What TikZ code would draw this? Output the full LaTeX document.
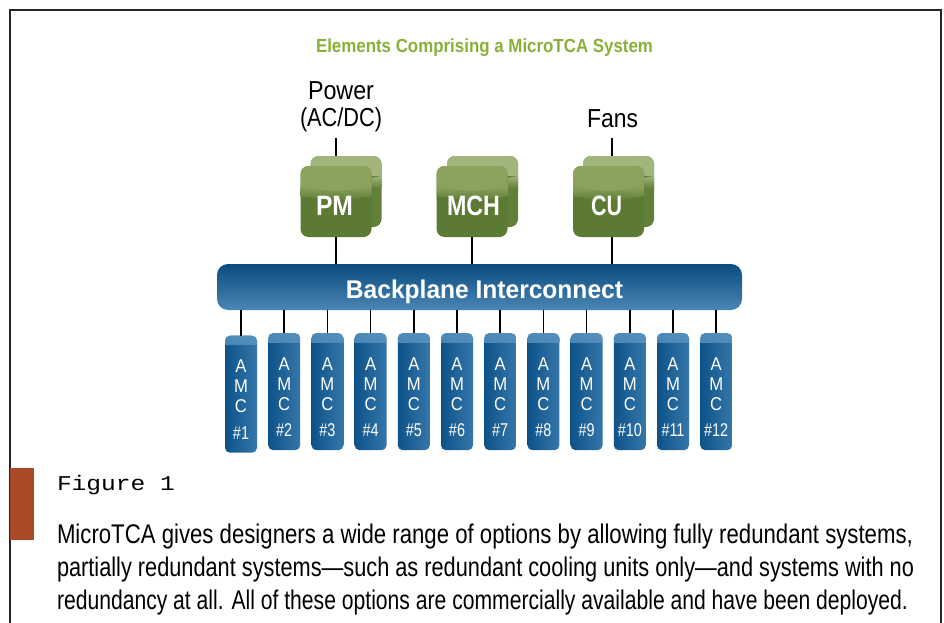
\documentclass[tikz,border=0pt]{standalone}
\usepackage{fontspec}
\setmainfont{Liberation Sans}
\newfontfamily\capmono{Liberation Mono}
\usepackage{graphicx}
\definecolor{titlegreen}{HTML}{8AB03A}
\definecolor{gdark}{HTML}{5C7A34}
\definecolor{glight}{HTML}{8BA35E}
\definecolor{gbdark}{HTML}{62803A}
\definecolor{gblight}{HTML}{A0B67B}
\definecolor{bptop}{HTML}{0A4B7E}
\definecolor{bpmid}{HTML}{11578C}
\definecolor{bpbot}{HTML}{4A86B5}
\definecolor{cardleft}{HTML}{0C5289}
\definecolor{cardright}{HTML}{3677AA}
\definecolor{cardhi}{HTML}{5E97C3}
\definecolor{barorange}{HTML}{A84A26}
\newcommand{\fitto}[2]{\resizebox{#1}{\height}{#2}}
\begin{document}
\begin{tikzpicture}[x=1pt,y=-1pt,
  conn/.style={line width=1.6pt,black},
  txt/.style={inner sep=0pt,outer sep=0pt,anchor=base},
  gback/.style={minimum width=71pt,minimum height=71pt,inner sep=0pt,rounded corners=8pt,fill=gbdark,
    path picture={\fill[gblight,sharp corners] ([yshift=1pt]path picture bounding box.north west) rectangle ([yshift=-20pt]path picture bounding box.north east);
      \shade[sharp corners,top color=gblight,bottom color=gbdark] ([yshift=-20pt]path picture bounding box.north west) .. controls ([yshift=-27pt]path picture bounding box.north) .. ([yshift=-20pt]path picture bounding box.north east) -- ([yshift=-32pt]path picture bounding box.north east) -- ([yshift=-32pt]path picture bounding box.north west) -- cycle;}},
  gfront/.style={minimum width=71pt,minimum height=71pt,inner sep=0pt,rounded corners=8pt,fill=gdark,
    path picture={\fill[glight,sharp corners] ([yshift=1pt]path picture bounding box.north west) -- ([yshift=-20pt]path picture bounding box.north west) .. controls ([yshift=-27pt]path picture bounding box.north) .. ([yshift=-20pt]path picture bounding box.north east) -- ([yshift=1pt]path picture bounding box.north east) -- cycle;
      \shade[sharp corners,top color=glight,bottom color=gdark] ([yshift=-20pt]path picture bounding box.north west) .. controls ([yshift=-27pt]path picture bounding box.north) .. ([yshift=-20pt]path picture bounding box.north east) -- ([yshift=-30pt]path picture bounding box.north east) .. controls ([yshift=-36pt]path picture bounding box.north) .. ([yshift=-30pt]path picture bounding box.north west) -- cycle;}},
  bpstyle/.style={minimum width=525pt,minimum height=46pt,inner sep=0pt,rounded corners=11pt,
    top color=bptop,middle color=bpmid,bottom color=bpbot,shading angle=0},
  card/.style={minimum width=32pt,minimum height=117pt,inner sep=0pt,rounded corners=5pt,
    left color=cardleft,right color=cardright,anchor=north,
    path picture={\shade[sharp corners,top color=cardhi,bottom color=cardright!60!cardleft,opacity=0.8] (path picture bounding box.north west) rectangle ([yshift=-9pt]path picture bounding box.north east);}},
  amct/.style={txt,text=white,font=\fontsize{18.5}{20}\selectfont}
]
\useasboundingbox (0,0) rectangle (944,623);
\fill[white] (0,0) rectangle (944,623);
% frame
\draw[line width=1.6pt,black!85] (10,623) -- (10,10) -- (941,10) -- (941,623);
\fill[barorange] (10,468) rectangle (34,540);

% title
\node[txt,text=titlegreen] (title) at (484.5,52.5) {\fitto{337pt}{\bfseries\fontsize{19}{21}\selectfont Elements Comprising a MicroTCA System}};

% top labels
\node[txt] (pwr1) at (341,99.3) {\fitto{66pt}{\fontsize{26}{28}\selectfont Power}};
\node[txt] (pwr2) at (341,127) {\fitto{82pt}{\fontsize{26}{28}\selectfont (AC/DC)}};
\node[txt] (fans) at (612.5,127) {\fitto{51pt}{\fontsize{26}{28}\selectfont Fans}};

% green modules
\node[gback] (pmb) at (346,191.5) {};
\node[gfront] (pmf) at (336,201.5) {};
\node[gback] (mchb) at (482.5,191.5) {};
\node[gfront] (mchf) at (472,201.5) {};
\node[gback] (cub) at (618.5,191.5) {};
\node[gfront] (cuf) at (608.5,201.5) {};
\node[txt,text=white] (pmt) at (334.5,215) {\fitto{37pt}{\bfseries\fontsize{28}{30}\selectfont PM}};
\node[txt,text=white] (mcht) at (473.5,215) {\fitto{53pt}{\bfseries\fontsize{28}{30}\selectfont MCH}};
\node[txt,text=white] (cut) at (606.5,215) {\fitto{31pt}{\bfseries\fontsize{28}{30}\selectfont CU}};

% backplane
\node[bpstyle] (bp) at (479.5,287) {};
\node[txt,text=white] (bpt) at (484.5,298.3) {\fitto{277pt}{\bfseries\fontsize{25.6}{28}\selectfont Backplane Interconnect}};

% connectors top
\coordinate (pwrend) at (336,137.5);
\coordinate (fansend) at (612,137.5);
\coordinate (cuc) at ([xshift=3.5pt]cuf.south);
\draw[conn] (pwrend) -- (pwrend |- pmb.north);
\draw[conn] (fansend) -- (fansend |- cub.north);
\draw[conn] (pmf.south) -- (pmf.south |- bp.north);
\draw[conn] (mchf.south) -- (mchf.south |- bp.north);
\draw[conn] (cuc) -- (cuc |- bp.north);

% AMC cards
\foreach \i in {1,...,12}{
  \pgfmathsetmacro\cx{241+43.2*(\i-1)}
  \pgfmathsetmacro\ct{ifthenelse(\i==1,335.5,333)}
  \node[card] (amc\i) at (\cx,\ct) {};
  \draw[conn] (amc\i.north |- bp.south) -- (amc\i.north);
  \node[amct] (amca\i) at (\cx,\ct+37) {\scalebox{0.9}[1]{A}};
  \node[amct] (amcm\i) at (\cx,\ct+57) {\scalebox{0.9}[1]{M}};
  \node[amct] (amcc\i) at (\cx,\ct+77) {\scalebox{0.9}[1]{C}};
  \node[amct] (amcn\i) at (\cx,\ct+103.7) {\scalebox{0.78}[1]{\#\i}};
}

% caption
\node[txt,anchor=base west] (fig) at (57,490) {\fitto{118pt}{\capmono\fontsize{21}{24}\selectfont Figure 1}};
\node[txt,anchor=base west] (cap1) at (57,543) {\fitto{856pt}{\fontsize{27}{30}\selectfont MicroTCA gives designers a wide range of options by allowing fully redundant systems,}};
\node[txt,anchor=base west] (cap2) at (57,576) {\fitto{857pt}{\fontsize{27}{30}\selectfont partially redundant systems---such as redundant cooling units only---and systems with no}};
\node[txt,anchor=base west] (cap3) at (57,609) {\fitto{851pt}{\fontsize{27}{30}\selectfont redundancy at all. All of these options are commercially available and have been deployed.}};
\end{tikzpicture}
\end{document}
